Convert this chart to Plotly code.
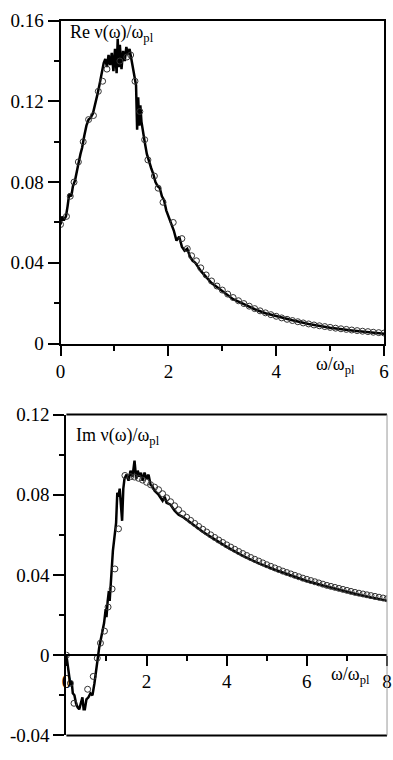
import plotly.graph_objects as go

# ---------------- data ----------------
re_w = [0, 0.03, 0.06, 0.1, 0.13, 0.16, 0.2, 0.23, 0.27, 0.3, 0.33, 0.37, 0.4, 0.44, 0.48, 0.52, 0.56, 0.6,
        0.64, 0.68, 0.72, 0.76, 0.8, 0.83, 0.86, 0.89, 0.92, 0.95, 0.98, 1.01, 1.04, 1.06, 1.08, 1.1, 1.13,
        1.16, 1.19, 1.22, 1.25, 1.28, 1.31, 1.34, 1.37, 1.4, 1.42, 1.44, 1.46, 1.48, 1.5, 1.53, 1.56, 1.6,
        1.64, 1.68, 1.72, 1.76, 1.8, 1.84, 1.88, 1.92, 1.96, 2.0, 2.05, 2.1, 2.15, 2.2, 2.25, 2.3, 2.35, 2.4,
        2.45, 2.5, 2.6, 2.7, 2.8, 2.9, 3.0, 3.2, 3.4, 3.6, 3.8, 4.0, 4.3, 4.6, 5.0, 5.4, 5.8, 6.0]
re_v = [0.059, 0.063, 0.061, 0.063, 0.068, 0.074, 0.073, 0.078, 0.081, 0.086, 0.089, 0.094, 0.097, 0.103,
        0.108, 0.111, 0.112, 0.114, 0.118, 0.123, 0.128, 0.134, 0.139, 0.141, 0.137, 0.143, 0.138, 0.144,
        0.135, 0.146, 0.134, 0.151, 0.137, 0.148, 0.136, 0.145, 0.140, 0.147, 0.143, 0.146, 0.141, 0.138,
        0.132, 0.128, 0.106, 0.122, 0.108, 0.118, 0.110, 0.104, 0.100, 0.094, 0.090, 0.087, 0.084, 0.080,
        0.078, 0.077, 0.073, 0.071, 0.066, 0.063, 0.060, 0.056, 0.051, 0.053, 0.048, 0.046, 0.047, 0.043,
        0.041, 0.040, 0.036, 0.033, 0.030, 0.028, 0.026, 0.022, 0.0195, 0.017, 0.015, 0.0135, 0.0115,
        0.0097, 0.0078, 0.0065, 0.0053, 0.0048]

re_cw = [0, 0.11, 0.18, 0.25, 0.33, 0.42, 0.52, 0.61, 0.70, 0.78, 0.86, 1.1, 1.23, 1.30, 1.38, 1.47, 1.56,
         1.62, 1.74, 1.81, 1.9, 2.09, 2.25, 2.35, 2.43, 2.52,
         2.6, 2.7, 2.8, 2.9, 3.0, 3.1, 3.2, 3.3, 3.4, 3.5, 3.6, 3.7, 3.8, 3.9, 4.0, 4.1, 4.2, 4.3, 4.4, 4.5,
         4.6, 4.7, 4.8, 4.9, 5.0, 5.1, 5.2, 5.3, 5.4, 5.5, 5.6, 5.7, 5.8, 5.9, 6.0]
re_cv = [0.059, 0.063, 0.073, 0.080, 0.090, 0.100, 0.111, 0.113, 0.125, 0.130, 0.136, 0.140, 0.142, 0.143,
         0.130, 0.115, 0.101, 0.091, 0.083, 0.077, 0.070, 0.060, 0.052, 0.047, 0.0435, 0.041,
         0.0375, 0.034, 0.031, 0.0285, 0.0265, 0.0245, 0.0228, 0.0212, 0.0198, 0.0185, 0.0173, 0.0162,
         0.0152, 0.0143, 0.0135, 0.0127, 0.0120, 0.0114, 0.0108, 0.0102, 0.0097, 0.0092, 0.0088, 0.0084,
         0.0080, 0.0076, 0.0073, 0.0070, 0.0067, 0.0064, 0.0061, 0.0059, 0.0056, 0.0054, 0.0052]

im_w = [0, 0.04, 0.08, 0.1, 0.13, 0.16, 0.2, 0.24, 0.28, 0.32, 0.36, 0.4, 0.43, 0.46, 0.5, 0.55, 0.6, 0.65,
        0.7, 0.74, 0.78, 0.82, 0.86, 0.9, 0.94, 0.98, 1.0, 1.03, 1.06, 1.08, 1.1, 1.13, 1.16, 1.2, 1.24,
        1.27, 1.3, 1.33, 1.36, 1.39, 1.42, 1.45, 1.5, 1.55, 1.6, 1.65, 1.7, 1.74, 1.78, 1.82, 1.86, 1.9,
        1.95, 2.0, 2.05, 2.1, 2.15, 2.2, 2.3, 2.4, 2.45, 2.5, 2.6, 2.7, 2.8, 2.9, 3.0, 3.2, 3.4, 3.6, 3.8,
        4.0, 4.4, 4.8, 5.2, 5.6, 6.0, 6.4, 6.8, 7.2, 7.6, 8.0]
im_v = [0.0, -0.006, -0.012, -0.015, -0.013, -0.019, -0.020, -0.024, -0.026, -0.027, -0.024, -0.021,
        -0.027, -0.027, -0.022, -0.021, -0.019, -0.020, -0.014, -0.009, -0.002, 0.004, 0.008, 0.012,
        0.016, 0.023, 0.019, 0.027, 0.032, 0.027, 0.035, 0.040, 0.052, 0.059, 0.066, 0.081, 0.079, 0.083,
        0.075, 0.067, 0.083, 0.088, 0.090, 0.087, 0.092, 0.089, 0.097, 0.088, 0.092, 0.089, 0.091, 0.087,
        0.091, 0.088, 0.090, 0.085, 0.084, 0.082, 0.080, 0.077, 0.079, 0.076, 0.075, 0.072, 0.070, 0.069,
        0.0675, 0.0645, 0.0615, 0.059, 0.0565, 0.054, 0.0495, 0.0458, 0.0426, 0.0397, 0.037, 0.0347,
        0.0326, 0.0306, 0.0288, 0.0272]

im_cw = [0, 0.1, 0.19, 0.53, 0.67, 0.77, 0.85, 0.95, 1.04, 1.14, 1.21, 1.3, 1.46,
         1.6, 1.7, 1.8, 1.9, 2.0, 2.1, 2.2, 2.3, 2.4, 2.5, 2.6, 2.7, 2.8, 2.9, 3.0, 3.1, 3.2, 3.3, 3.4, 3.5,
         3.6, 3.7, 3.8, 3.9, 4.0, 4.1, 4.2, 4.3, 4.4, 4.5, 4.6, 4.7, 4.8, 4.9, 5.0, 5.1, 5.2, 5.3, 5.4, 5.5,
         5.6, 5.7, 5.8, 5.9, 6.0, 6.1, 6.2, 6.3, 6.4, 6.5, 6.6, 6.7, 6.8, 6.9, 7.0, 7.1, 7.2, 7.3, 7.4, 7.5,
         7.6, 7.7, 7.8, 7.9, 8.0]
im_cv = [0.0, -0.014, -0.024, -0.017, -0.0106, -0.0015, 0.006, 0.012, 0.024, 0.033, 0.043, 0.063, 0.0896,
         0.089, 0.0888, 0.0882, 0.0873, 0.0862, 0.085, 0.0838, 0.0825, 0.0805, 0.0785, 0.0765, 0.0745,
         0.0725, 0.0705, 0.0688, 0.0672, 0.0657, 0.0642, 0.0628, 0.0614, 0.0600, 0.0587, 0.0574, 0.0562,
         0.0550, 0.0539, 0.0528, 0.0517, 0.0507, 0.0497, 0.0487, 0.0478, 0.0469, 0.0460, 0.0451, 0.0443,
         0.0435, 0.0427, 0.0419, 0.0412, 0.0405, 0.0398, 0.0391, 0.0384, 0.0378, 0.0372, 0.0366, 0.0360,
         0.0354, 0.0348, 0.0343, 0.0338, 0.0333, 0.0328, 0.0323, 0.0318, 0.0313, 0.0309, 0.0305, 0.0301,
         0.0297, 0.0293, 0.0289, 0.0285, 0.0281]

top_xticks = [0, 2, 4, 6]
bot_xticks = [0, 2, 4, 6, 8]
top_yticks = [0, 0.04, 0.08, 0.12, 0.16]
top_yticktext = ["0", "0.04", "0.08", "0.12", "0.16"]
bot_yticks = [-0.04, 0, 0.04, 0.08, 0.12]
bot_yticktext = ["-0.04", "0", "0.04", "0.08", "0.12"]

# ---------------- layout helpers ----------------
W, H = 393, 760
def px(x):
    return x / W
def py(y):
    return 1 - y / H

FONT = "'Liberation Serif', 'Times New Roman', Times, serif"
tickfont = dict(family=FONT, size=19, color="black")

fig = go.Figure()

line_style = dict(color="black", width=2.5)
mk_style = dict(symbol="circle-open", size=6, color="#333", line=dict(width=1, color="#333"))

fig.add_trace(go.Scatter(x=re_w, y=re_v, mode="lines", line=line_style, xaxis="x", yaxis="y",
                         showlegend=False, hoverinfo="skip"))
fig.add_trace(go.Scatter(x=re_cw, y=re_cv, mode="markers", marker=mk_style, xaxis="x", yaxis="y",
                         showlegend=False, hoverinfo="skip"))
fig.add_trace(go.Scatter(x=im_w, y=im_v, mode="lines", line=line_style, xaxis="x2", yaxis="y2",
                         showlegend=False, hoverinfo="skip"))
fig.add_trace(go.Scatter(x=im_cw, y=im_cv, mode="markers", marker=mk_style, xaxis="x2", yaxis="y2",
                         showlegend=False, hoverinfo="skip"))

common = dict(showgrid=False, zeroline=False, ticks="outside", tickcolor="black", tickwidth=2,
              linecolor="black", linewidth=2, tickfont=tickfont, showline=True,
              ticklabeloverflow="allow")

fig.update_layout(
    width=W, height=H,
    margin=dict(l=0, r=0, t=0, b=0),
    paper_bgcolor="white", plot_bgcolor="white",
    font=dict(family=FONT, color="black"),
    xaxis=dict(domain=[px(57), px(389)], range=[0, 6], anchor="y", mirror=True,
               tickvals=top_xticks, ticklen=10,
               minor=dict(tickvals=[1, 3, 5], ticklen=5, ticks="outside", tickwidth=2, tickcolor="black"),
               **common),
    yaxis=dict(domain=[py(343), py(11)], range=[0, 0.16], anchor="x", mirror=True,
               tickvals=top_yticks, ticktext=top_yticktext, ticklen=11,
               minor=dict(tickvals=[0.02, 0.06, 0.10, 0.14], ticklen=5, ticks="outside", tickwidth=2,
                          tickcolor="black"),
               **common),
    xaxis2=dict(domain=[px(63), px(392)], range=[0, 8], anchor="free", position=py(663),
                tickvals=bot_xticks, ticklen=10,
                minor=dict(tickvals=[1, 3, 5, 7], ticklen=5, ticks="outside", tickwidth=2, tickcolor="black"),
                **common),
    yaxis2=dict(domain=[py(746), py(416)], range=[-0.04, 0.12], anchor="x2",
                tickvals=bot_yticks, ticktext=bot_yticktext, ticklen=11,
                minor=dict(tickvals=[-0.02, 0.02, 0.06, 0.10], ticklen=5, ticks="outside", tickwidth=2,
                           tickcolor="black"),
                **common),
)

# frame for lower panel
fig.add_shape(type="line", xref="x2 domain", yref="y2 domain", x0=0, x1=1, y0=1, y1=1,
              line=dict(color="black", width=2))
fig.add_shape(type="line", xref="x2 domain", yref="y2 domain", x0=0, x1=1, y0=0, y1=0,
              line=dict(color="black", width=2))
fig.add_shape(type="line", xref="x2 domain", yref="y2 domain", x0=1, x1=1, y0=0, y1=1,
              line=dict(color="#999", width=1))

ann_font = dict(family=FONT, size=18, color="black")
fig.add_annotation(text="Re ν(ω)/ω<sub>pl</sub>", xref="paper", yref="paper", x=px(65), y=py(24),
                   xanchor="left", yanchor="middle", showarrow=False, font=ann_font)
fig.add_annotation(text="Im ν(ω)/ω<sub>pl</sub>", xref="paper", yref="paper", x=px(71), y=py(439),
                   xanchor="left", yanchor="middle", showarrow=False, font=ann_font)
fig.add_annotation(text="ω/ω<sub>pl</sub>", xref="paper", yref="paper", x=px(317), y=py(366),
                   xanchor="left", yanchor="middle", showarrow=False, font=ann_font)
fig.add_annotation(text="ω/ω<sub>pl</sub>", xref="paper", yref="paper", x=px(332), y=py(684),
                   xanchor="left", yanchor="middle", showarrow=False, font=ann_font)

fig.write_html("out.html")
